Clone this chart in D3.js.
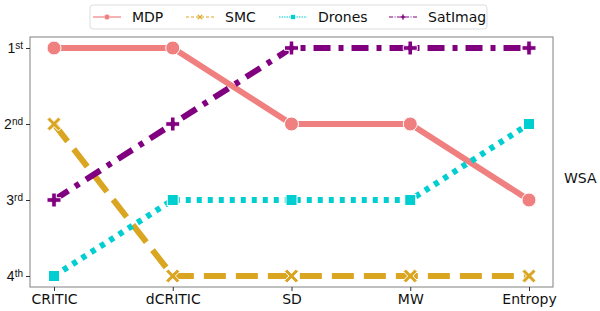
<!DOCTYPE html>
<html><head><meta charset="utf-8">
<script src="https://cdn.jsdelivr.net/npm/d3@7"></script>
<style>body{margin:0;background:#fff}svg{display:block;font-family:"DejaVu Sans",sans-serif}</style>
</head><body><svg id="c" width="600" height="311"></svg>
<script>
const categories = ["CRITIC","dCRITIC","SD","MW","Entropy"];
const rankLabels = [["1","st"],["2","nd"],["3","rd"],["4","th"]];
const seriesNames = ["MDP","SMC","Drones","SatImag"];
const mdp = [1,1,2,2,3];
const smc = [2,4,4,4,4];
const drones = [4,3,3,3,2];
const satimag = [3,2,1,1,1];
const sideLabel = "WSA";

const series = [
  {name:"MDP", values:mdp, color:"#F08080", dash:null, marker:"circle"},
  {name:"SMC", values:smc, color:"#DAA520", dash:"22,10", marker:"x"},
  {name:"Drones", values:drones, color:"#00CED1", dash:"5,6", marker:"square"},
  {name:"SatImag", values:satimag, color:"#800080", dash:"17,8,5,8", marker:"plus"}
];

const svg = d3.select("#c");
const L=30, R=553, T=37, B=287;
const x = d3.scalePoint().domain(categories).range([54,529]);
const y = d3.scaleLinear().domain([1,4]).range([48,276]);

svg.append("rect").attr("x",L).attr("y",T).attr("width",R-L).attr("height",B-T)
  .attr("fill","none").attr("stroke","#808080").attr("stroke-width",1);

// x axis
const xa = svg.append("g").attr("transform",`translate(0,${B})`)
  .call(d3.axisBottom(x).tickSize(4).tickPadding(3));
xa.select(".domain").remove();
xa.selectAll("line").attr("stroke","#333");
xa.selectAll("text").attr("font-size",14).attr("fill","#111").attr("font-family","DejaVu Sans");

// y axis
const ya = svg.append("g").attr("transform",`translate(${L},0)`)
  .call(d3.axisLeft(y).tickValues([1,2,3,4]).tickSize(4).tickFormat(""));
ya.select(".domain").remove();
ya.selectAll("line").attr("stroke","#333");
ya.selectAll(".tick").each(function(d){
  const t = d3.select(this).append("text").attr("x",-7).attr("dy","0.35em")
    .attr("text-anchor","end").attr("fill","#111").attr("font-size",14);
  const lab = rankLabels[d-1];
  t.append("tspan").text(lab[0]);
  t.append("tspan").attr("font-size",10).attr("dy","-0.45em").text(lab[1]);
});

const line = d3.line().x((d,i)=>x(categories[i])).y(d=>y(d));

function marker(g, type, cx, cy, color, s){
  if(type==="circle"){
    g.append("circle").attr("cx",cx).attr("cy",cy).attr("r",7*s).attr("fill",color).attr("stroke","#fff").attr("stroke-width",1*s);
  } else if(type==="square"){
    g.append("rect").attr("x",cx-5.5*s).attr("y",cy-5.5*s).attr("width",11*s).attr("height",11*s).attr("fill",color).attr("stroke","#fff").attr("stroke-width",1*s);
  } else if(type==="x"){
    const a=7*s,w=2.6*s;
    const p=`M${-a+w},${-a} L0,${-w} L${a-w},${-a} L${a},${-a+w} L${w},0 L${a},${a-w} L${a-w},${a} L0,${w} L${-a+w},${a} L${-a},${a-w} L${-w},0 L${-a},${-a+w} Z`;
    g.append("path").attr("d",p).attr("transform",`translate(${cx},${cy})`).attr("fill",color).attr("stroke","#fff").attr("stroke-width",1*s);
  } else if(type==="plus"){
    const a=7*s,w=2.3*s;
    const p=`M${-w},${-a} H${w} V${-w} H${a} V${w} H${w} V${a} H${-w} V${w} H${-a} V${-w} H${-w} Z`;
    g.append("path").attr("d",p).attr("transform",`translate(${cx},${cy})`).attr("fill",color).attr("stroke","#fff").attr("stroke-width",1*s);
  }
}

series.forEach(s=>{
  const g = svg.append("g");
  g.append("path").datum(s.values).attr("d",line).attr("fill","none")
    .attr("stroke",s.color).attr("stroke-width",6).attr("stroke-dasharray",s.dash);
  s.values.forEach((v,i)=>marker(g,s.marker,x(categories[i]),y(v),s.color,1));
});

// legend
const lg = svg.append("g");
lg.append("rect").attr("x",90).attr("y",5).attr("width",397).attr("height",24).attr("rx",3)
  .attr("fill","#fff").attr("stroke","#ddd");
const lx=[93,186,279,389];
const ldash=[null,"3,2","1.5,1","4,1.5,1,1.5"];
series.forEach((s,i)=>{
  const gy=17;
  lg.append("line").attr("x1",lx[i]).attr("x2",lx[i]+28).attr("y1",gy).attr("y2",gy)
    .attr("stroke",s.color).attr("stroke-width",1.2).attr("stroke-dasharray",ldash[i]);
  marker(lg,s.marker,lx[i]+14,gy,s.color,0.4);
  lg.append("text").attr("x",lx[i]+39).attr("y",gy).attr("dy","0.35em").attr("font-size",14)
    .attr("fill","#111").text(s.name);
});

svg.append("text").attr("x",564).attr("y",178).attr("dy","0.35em").attr("font-size",14).attr("fill","#111").text(sideLabel);
</script></body></html>
